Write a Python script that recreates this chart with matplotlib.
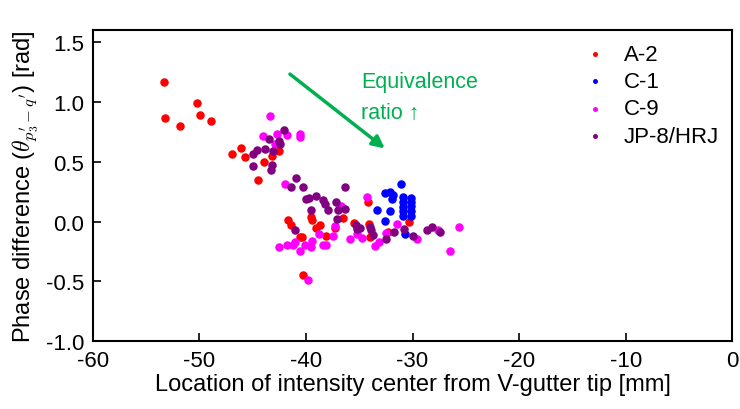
#!/usr/bin/env python3
"""Phase difference vs location of intensity center, scatter by fuel"""
import matplotlib
matplotlib.use("Agg")
import matplotlib.pyplot as plt

plt.rcParams["font.family"] = ["Liberation Sans", "DejaVu Sans"]
plt.rcParams["mathtext.fontset"] = "cm"

# A-2 (red)
a2_x = [-53.3, -50.2, -53.2, -49.9, -51.8, -48.9, -46.9, -46.1, -45.7, -44.5,
        -42.5, -43.2, -43.9, -41.7, -41.4, -40.6, -40.4, -40.3, -39.5, -39.4,
        -38.7, -39.1, -38.1, -37.3, -36.5, -35.5, -34.1, -34.0, -34.2, -32.3,
        -30.3]
a2_y = [1.16, 0.99, 0.865, 0.89, 0.80, 0.84, 0.56, 0.61, 0.54, 0.35,
        0.585, 0.55, 0.50, 0.01, -0.03, -0.13, -0.13, -0.445, 0.037, 0.015,
        -0.028, -0.055, -0.117, -0.055, 0.028, -0.01, -0.02, -0.13, 0.162, -0.09,
        0.0]

# C-1 (blue)
c1_x = [-31.1, -32.6, -32.1, -31.8, -31.9,
        -30.9, -30.9, -30.9, -30.9, -30.9,
        -30.1, -30.1, -30.1, -30.1, -30.1,
        -33.3, -32.1, -32.6, -30.7]
c1_y = [0.315, 0.24, 0.25, 0.217, 0.184,
        0.204, 0.162, 0.125, 0.084, 0.05,
        0.196, 0.162, 0.129, 0.084, 0.05,
        0.10, 0.084, 0.008, -0.103]

# C-9 (magenta)
c9_x = [-43.4, -44.0, -42.7, -41.8, -40.6, -40.6, -42.9, -42.0, -34.3, -36.7,
        -42.5, -41.8, -41.2, -41.0, -40.6, -40.1, -39.5, -39.4, -38.8, -38.4,
        -38.1, -37.5, -37.3, -39.8, -35.9, -35.2, -34.7, -33.5, -33.1, -32.5,
        -31.5, -29.6, -27.6, -25.6, -26.5]
c9_y = [0.88, 0.714, 0.733, 0.72, 0.733, 0.706, 0.65, 0.31, 0.204, 0.129,
        -0.209, -0.20, -0.195, -0.172, -0.25, -0.195, -0.214, -0.159, -0.103, -0.195,
        -0.195, -0.117, -0.038, -0.485, -0.145, -0.103, -0.139, -0.206, -0.167, -0.094,
        -0.019, -0.15, -0.075, -0.047, -0.25]

# JP-8/HRJ (purple)
jp_x = [-45.0, -44.6, -45.0, -42.1, -43.5, -42.5, -42.4, -43.8, -43.1, -43.2,
        -43.3, -40.9, -41.4, -40.3, -36.3, -40.0, -39.7, -39.1, -38.4, -38.2,
        -37.9, -37.2, -37.0, -36.3, -39.5, -41.0, -37.1, -35.3, -35.2, -34.9,
        -34.0, -33.9, -33.7, -32.5, -31.7, -30.8, -30.0, -28.6, -28.2, -27.4]
jp_y = [0.566, 0.60, 0.46, 0.767, 0.686, 0.67, 0.65, 0.608, 0.585, 0.468,
        0.426, 0.363, 0.284, 0.288, 0.284, 0.184, 0.196, 0.209, 0.176, 0.148,
        0.10, 0.162, 0.10, 0.106, 0.092, -0.067, 0.017, -0.028, -0.061, -0.055,
        -0.047, -0.075, -0.11, -0.145, -0.084, -0.061, -0.125, -0.075, -0.047, -0.089]

fig = plt.figure(figsize=(7.4, 4.1), dpi=100)
ax = fig.add_axes([0.1253, 0.165, 0.8643, 0.760])

ax.scatter(a2_x, a2_y, s=26, color="#ff0000", label="A-2", zorder=3)
ax.scatter(c1_x, c1_y, s=26, color="#0000ff", label="C-1", zorder=3)
ax.scatter(c9_x, c9_y, s=26, color="#ff00ff", label="C-9", zorder=3)
ax.scatter(jp_x, jp_y, s=26, color="#800080", label="JP-8/HRJ", zorder=3)

ax.set_xlim(-60, 0)
ax.set_ylim(-1.0, 1.6)
ax.set_xticks([-60, -50, -40, -30, -20, -10, 0])
ax.set_yticks([-1.0, -0.5, 0.0, 0.5, 1.0, 1.5])
ax.set_yticklabels(["-1.0", "-0.5", "0.0", "0.5", "1.0", "1.5"])
ax.set_xticklabels(["-60", "-50", "-40", "-30", "-20", "-10", "0"])
ax.tick_params(direction="in", length=6, width=1.2, labelsize=16,
               top=False, right=False, pad=6)
for sp in ax.spines.values():
    sp.set_linewidth(1.5)

ax.set_xlabel("Location of intensity center from V-gutter tip [mm]",
              fontsize=17, labelpad=2)
ax.set_ylabel(r"Phase difference ($\theta_{p^{\prime}_3 - q^{\prime}}$) [rad]",
              fontsize=17, labelpad=4)

# arrow + text
ax.annotate("", xy=(-32.6, 0.61), xytext=(-41.5, 1.23),
            arrowprops=dict(arrowstyle="-|>", color="#00b050", lw=2.5,
                            mutation_scale=18, shrinkA=0, shrinkB=0))
ax.text(-34.8, 1.04, "Equivalence\nratio \u2191", color="#00b050",
        fontsize=15.5, ha="left", va="center", linespacing=1.65)

ax.legend(loc="upper right", bbox_to_anchor=(0.993, 0.983), frameon=False,
          fontsize=16, markerscale=0.5, handletextpad=0.8, labelspacing=0.28,
          borderaxespad=0.0, handlelength=1.0)

fig.savefig("out.png", dpi=100)
